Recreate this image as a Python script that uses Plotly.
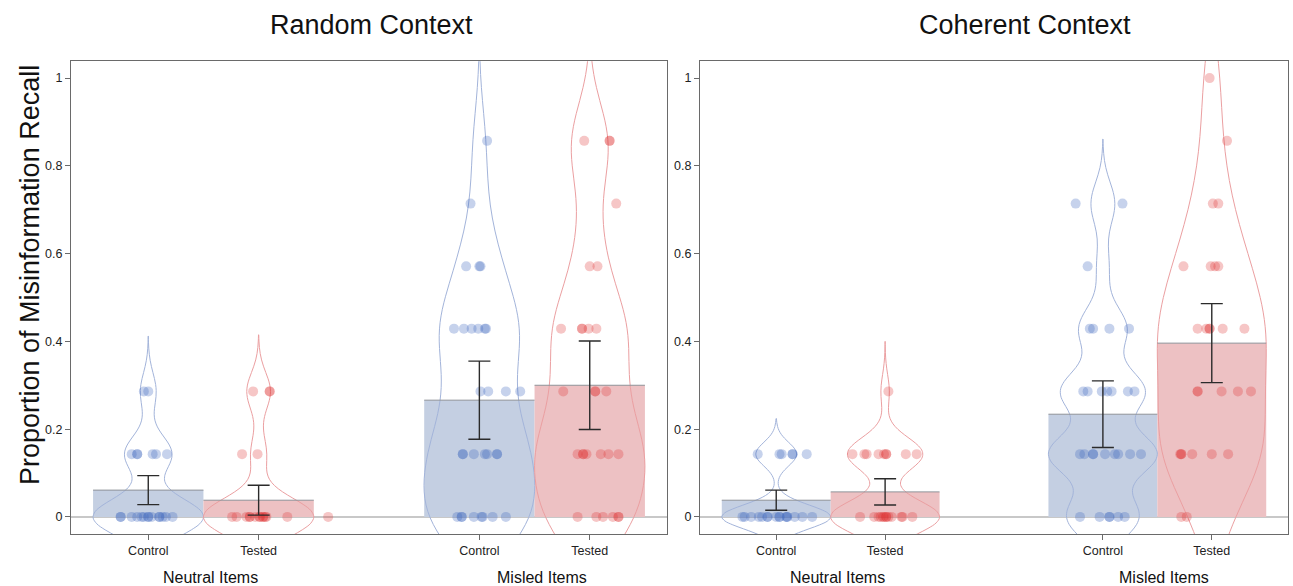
import plotly.graph_objects as go

# ---------------- data ----------------
positions = [0, 1, 3, 4]
tick_labels = ["Control", "Tested", "Control", "Tested"]
group_labels = ["Neutral Items", "Misled Items"]
panel_titles = ["Random Context", "Coherent Context"]

# bar means and standard errors (Control-Neutral, Tested-Neutral, Control-Misled, Tested-Misled)
random_means = [0.061, 0.038, 0.266, 0.300]
random_se = [0.033, 0.034, 0.089, 0.101]
coherent_means = [0.038, 0.057, 0.234, 0.396]
coherent_se = [0.023, 0.030, 0.076, 0.090]

# individual participant scores and their horizontal jitter (category units)
rnc_vals = [0.286, 0.286] + [0.143] * 6 + [0.0] * 14
rnc_jit = [-0.04, 0.0, -0.15, -0.10, -0.10, 0.04, 0.07, 0.17,
           -0.25, -0.25, -0.15, -0.10, -0.06, -0.04, 0.0, 0.0, 0.03, 0.10, 0.10, 0.13, 0.16, 0.22]
rnt_vals = [0.286] * 3 + [0.143] * 2 + [0.0] * 14
rnt_jit = [-0.05, 0.10, 0.10, -0.15, -0.01,
           -0.24, -0.20, -0.11, -0.08, -0.08, -0.03, 0.01, 0.01, 0.04, 0.04, 0.06, 0.07, 0.26, 0.63]
rmc_vals = [0.857, 0.714] + [0.571] * 3 + [0.429] * 6 + [0.286] * 4 + [0.143] * 7 + [0.0] * 8
rmc_jit = [0.07, -0.08, -0.12, 0.0, 0.01,
           -0.23, -0.14, -0.07, -0.01, 0.05, 0.06,
           0.01, 0.08, 0.24, 0.37,
           -0.15, -0.15, -0.05, 0.05, 0.07, 0.16, 0.16,
           -0.20, -0.16, -0.16, -0.05, 0.02, 0.03, 0.12, 0.24]
rmt_vals = [0.857] * 3 + [0.714] + [0.571] * 2 + [0.429] * 5 + [0.286] * 4 + [0.143] * 7 + [0.0] * 6
rmt_jit = [-0.05, 0.18, 0.18, 0.24, 0.0, 0.07,
           -0.26, -0.07, -0.07, -0.01, 0.06,
           -0.24, 0.05, 0.05, 0.15,
           -0.11, -0.06, -0.06, -0.03, 0.10, 0.17, 0.26,
           -0.11, 0.06, 0.12, 0.21, 0.26, 0.26]

cnc_vals = [0.143] * 6 + [0.0] * 16
cnc_jit = [-0.17, 0.03, 0.05, 0.15, 0.15, 0.28,
           -0.31, -0.29, -0.23, -0.16, -0.13, -0.08, -0.08, 0.0, 0.03, 0.03, 0.09, 0.10, 0.10, 0.17, 0.24, 0.33]
cnt_vals = [0.286] + [0.143] * 9 + [0.0] * 13
cnt_jit = [0.03, -0.30, -0.19, -0.17, -0.06, -0.01, 0.01, 0.01, 0.19, 0.29,
           -0.23, -0.10, -0.06, -0.04, -0.02, -0.01, 0.01, 0.01, 0.03, 0.06, 0.15, 0.16, 0.25]
cmc_vals = [0.714] * 2 + [0.571] + [0.429] * 4 + [0.286] * 7 + [0.143] * 9 + [0.0] * 6
cmc_jit = [-0.25, 0.18, -0.14, -0.12, -0.09, 0.06, 0.24,
           -0.18, -0.14, -0.01, 0.04, 0.08, 0.23, 0.29,
           -0.21, -0.17, -0.09, -0.09, 0.02, 0.11, 0.14, 0.25, 0.35,
           -0.21, -0.03, 0.06, 0.06, 0.14, 0.20]
cmt_vals = [1.0, 0.857] + [0.714] * 2 + [0.571] * 4 + [0.429] * 6 + [0.286] * 5 + [0.143] * 6 + [0.0] * 2
cmt_jit = [-0.02, 0.14, 0.01, 0.06, -0.26, -0.01, 0.03, 0.06,
           -0.13, -0.05, -0.02, -0.02, 0.10, 0.30,
           -0.13, -0.13, 0.09, 0.24, 0.36,
           -0.29, -0.28, -0.28, -0.18, 0.0, 0.15,
           -0.28, -0.23]

# violin kernel bandwidths
random_bw = [0.042, 0.043, 0.09, 0.09]
coherent_bw = [0.027, 0.038, 0.049, 0.10]

# ---------------- styling ----------------
BAR_COLORS = ["#c4cfe2", "#edc1c3", "#c4cfe2", "#edc1c3"]
LINE_COLORS = ["#a3b4da", "#eb9fa1", "#a3b4da", "#eb9fa1"]
PT_COLORS = ["rgba(60,100,190,0.29)", "rgba(220,45,45,0.27)", "rgba(60,100,190,0.29)", "rgba(220,45,45,0.27)"]
FONT = "Liberation Sans, Arial, Helvetica, sans-serif"

fig = go.Figure()

panels = [
    dict(xa="x", ya="y", means=random_means, se=random_se, bw=random_bw,
         groups=[(rnc_vals, rnc_jit), (rnt_vals, rnt_jit), (rmc_vals, rmc_jit), (rmt_vals, rmt_jit)]),
    dict(xa="x2", ya="y2", means=coherent_means, se=coherent_se, bw=coherent_bw,
         groups=[(cnc_vals, cnc_jit), (cnt_vals, cnt_jit), (cmc_vals, cmc_jit), (cmt_vals, cmt_jit)]),
]

for p in panels:
    fig.add_trace(go.Bar(x=positions, y=p["means"], width=1.0, marker=dict(color=BAR_COLORS, line=dict(width=0)),
                         xaxis=p["xa"], yaxis=p["ya"], showlegend=False, hoverinfo="skip"))
    tx, ty = [], []
    for pos, m in zip(positions, p["means"]):
        tx += [pos - 0.5, pos + 0.5, None]
        ty += [m, m, None]
    fig.add_trace(go.Scatter(x=tx, y=ty, mode="lines", line=dict(color="#8f9298", width=1),
                             xaxis=p["xa"], yaxis=p["ya"], showlegend=False, hoverinfo="skip"))
    for i, (vals, jit) in enumerate(p["groups"]):
        bw = p["bw"][i]
        fig.add_trace(go.Violin(y=vals, x0=positions[i], width=1.0, bandwidth=bw,
                                spanmode="manual", span=[min(vals) - 3 * bw, max(vals) + 3 * bw],
                                points=False, box_visible=False, meanline_visible=False,
                                fillcolor="rgba(0,0,0,0)", line=dict(color=LINE_COLORS[i], width=1),
                                xaxis=p["xa"], yaxis=p["ya"], showlegend=False, hoverinfo="skip"))
    for i, (vals, jit) in enumerate(p["groups"]):
        fig.add_trace(go.Scatter(x=[positions[i] + j for j in jit], y=vals, mode="markers",
                                 marker=dict(size=10, color=PT_COLORS[i], line=dict(width=0)),
                                 xaxis=p["xa"], yaxis=p["ya"], showlegend=False, hoverinfo="skip"))
    fig.add_trace(go.Scatter(x=positions, y=p["means"], mode="markers", marker=dict(size=1, opacity=0),
                             error_y=dict(type="data", array=p["se"], visible=True, color="#2b2b2b",
                                          thickness=1.4, width=11),
                             xaxis=p["xa"], yaxis=p["ya"], showlegend=False, hoverinfo="skip"))

W, H = 1293, 586
y_dom = [(H - 534) / H, (H - 61) / H]
common_x = dict(range=[-0.7, 4.7], tickmode="array", tickvals=positions, ticktext=tick_labels,
                showline=True, mirror=True, linecolor="#6a6a6a", linewidth=1, ticks="outside", ticklen=5,
                tickcolor="#6a6a6a", showgrid=False, zeroline=False,
                tickfont=dict(family=FONT, size=12.5, color="#222"))
common_y = dict(range=[-0.039, 1.039], tickmode="linear", tick0=0, dtick=0.2,
                showline=True, mirror=True, linecolor="#6a6a6a", linewidth=1, ticks="outside", ticklen=5,
                tickcolor="#6a6a6a", showgrid=False, zeroline=True, zerolinecolor="#c8c8c8", zerolinewidth=1.5,
                tickfont=dict(family=FONT, size=12.5, color="#222"))

fig.update_layout(
    width=W, height=H, margin=dict(l=0, r=0, t=0, b=0),
    paper_bgcolor="white", plot_bgcolor="white", barmode="overlay",
    xaxis=dict(domain=[71 / W, 667 / W], anchor="y", **common_x),
    yaxis=dict(domain=y_dom, anchor="x", **common_y),
    xaxis2=dict(domain=[700 / W, 1288 / W], anchor="y2", **common_x),
    yaxis2=dict(domain=y_dom, anchor="x2", **common_y),
    font=dict(family=FONT),
)

annotations = [
    dict(text=panel_titles[0], x=371 / W, y=1 - 25 / H, xref="paper", yref="paper", showarrow=False,
         xanchor="center", yanchor="middle", font=dict(size=27, color="#111", family=FONT)),
    dict(text=panel_titles[1], x=1025 / W, y=1 - 25 / H, xref="paper", yref="paper", showarrow=False,
         xanchor="center", yanchor="middle", font=dict(size=27, color="#111", family=FONT)),
    dict(text="Proportion of Misinformation Recall", x=30 / W, y=1 - 275 / H, xref="paper", yref="paper",
         showarrow=False, textangle=-90, xanchor="center", yanchor="middle",
         font=dict(size=27, color="#111", family=FONT)),
]
for xa in ["x", "x2"]:
    for gi, gx in enumerate([0.5, 3.5]):
        annotations.append(dict(text=group_labels[gi], x=gx, xref=xa, y=1 - 577 / H, yref="paper",
                                showarrow=False, xshift=7, xanchor="center", yanchor="middle",
                                font=dict(size=16, color="#111", family=FONT)))
fig.update_layout(annotations=annotations)

fig.write_html("out.html", config={"displayModeBar": False},
               post_script="document.body.style.margin='0';document.body.style.padding='0';")
